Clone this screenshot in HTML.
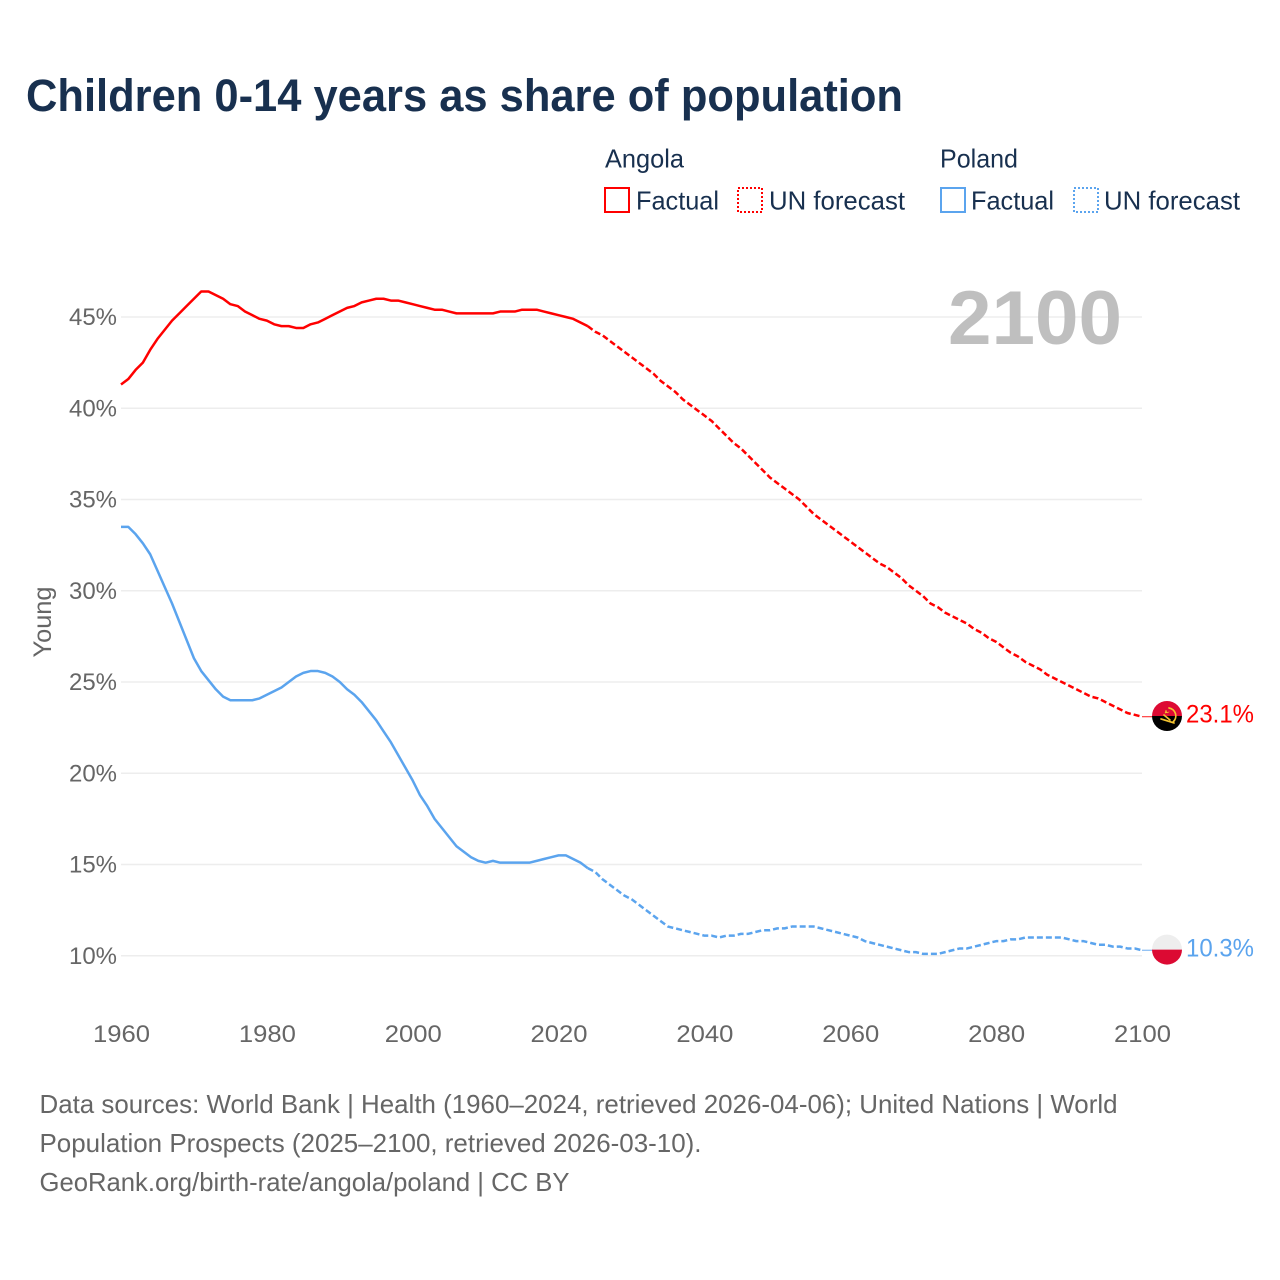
<!DOCTYPE html>
<html lang="en">
<head>
<meta charset="utf-8">
<title>Children 0-14 years as share of population</title>
<style>
html,body{margin:0;padding:0;background:#fff;width:1280px;height:1280px;overflow:hidden}
svg{display:block}
text{font-family:"Liberation Sans",sans-serif}
</style>
</head>
<body>
<svg id="chart" xmlns="http://www.w3.org/2000/svg" width="1280" height="1280" viewBox="0 0 1280 1280">
  <rect width="1280" height="1280" fill="#fff"/>
  <text x="26" y="111" font-size="45" font-weight="700" fill="#18304f" textLength="877" lengthAdjust="spacingAndGlyphs">Children 0-14 years as share of population</text>

  <g font-size="26" fill="#18304f">
    <text x="605" y="167.5" textLength="79" lengthAdjust="spacingAndGlyphs">Angola</text>
    <rect x="605" y="188" width="24" height="24" fill="none" stroke="#ff0000" stroke-width="2"/>
    <text x="636" y="209.5" textLength="83" lengthAdjust="spacingAndGlyphs">Factual</text>
    <rect x="738" y="188" width="24" height="24" fill="none" stroke="#ff0000" stroke-width="2" stroke-dasharray="2 2"/>
    <text x="769" y="209.5" textLength="136" lengthAdjust="spacingAndGlyphs">UN forecast</text>
    <text x="940" y="167.5" textLength="78" lengthAdjust="spacingAndGlyphs">Poland</text>
    <rect x="941" y="188" width="24" height="24" fill="none" stroke="#5ba4ee" stroke-width="2"/>
    <text x="971" y="209.5" textLength="83" lengthAdjust="spacingAndGlyphs">Factual</text>
    <rect x="1074" y="188" width="24" height="24" fill="none" stroke="#5ba4ee" stroke-width="2" stroke-dasharray="2 2"/>
    <text x="1104" y="209.5" textLength="136" lengthAdjust="spacingAndGlyphs">UN forecast</text>
  </g>

  <g id="grid"></g>
  <text x="948" y="344" font-size="76" font-weight="700" fill="#bfbfbf" textLength="174" lengthAdjust="spacingAndGlyphs">2100</text>
  <g id="yticks" font-size="24" fill="#666"></g>
  <g id="xticks" font-size="24" fill="#666"></g>
  <text transform="translate(51,622) rotate(-90)" text-anchor="middle" font-size="25" fill="#666" textLength="71" lengthAdjust="spacingAndGlyphs">Young</text>
  <g id="series"></g>
  <g id="ends"></g>

  <g font-size="26" fill="#666">
    <text x="39.5" y="1113" textLength="1078" lengthAdjust="spacingAndGlyphs">Data sources: World Bank | Health (1960–2024, retrieved 2026-04-06); United Nations | World</text>
    <text x="39.5" y="1152" textLength="662" lengthAdjust="spacingAndGlyphs">Population Prospects (2025–2100, retrieved 2026-03-10).</text>
    <text x="39.5" y="1191" textLength="530" lengthAdjust="spacingAndGlyphs">GeoRank.org/birth-rate/angola/poland | CC BY</text>
  </g>
</svg>
<script>
const xTickYears = [1960, 1980, 2000, 2020, 2040, 2060, 2080, 2100];
const yTickValues = [10, 15, 20, 25, 30, 35, 40, 45];
const factualStartYear = 1960;
const forecastStartYear = 2024;

const angolaFactual = [
  41.3, 41.6, 42.1, 42.5, 43.2, 43.8, 44.3, 44.8, 45.2, 45.6,
  46.0, 46.4, 46.4, 46.2, 46.0, 45.7, 45.6, 45.3, 45.1, 44.9,
  44.8, 44.6, 44.5, 44.5, 44.4, 44.4, 44.6, 44.7, 44.9, 45.1,
  45.3, 45.5, 45.6, 45.8, 45.9, 46.0, 46.0, 45.9, 45.9, 45.8,
  45.7, 45.6, 45.5, 45.4, 45.4, 45.3, 45.2, 45.2, 45.2, 45.2,
  45.2, 45.2, 45.3, 45.3, 45.3, 45.4, 45.4, 45.4, 45.3, 45.2,
  45.1, 45.0, 44.9, 44.7, 44.5
];
const angolaForecast = [
  44.5, 44.2, 44.0, 43.7, 43.4, 43.1,
  42.8, 42.5, 42.2, 41.9, 41.5, 41.2, 40.9, 40.5, 40.2, 39.9,
  39.6, 39.3, 38.9, 38.5, 38.1, 37.8, 37.4, 37.0, 36.6, 36.2,
  35.9, 35.6, 35.3, 35.0, 34.6, 34.2, 33.9, 33.6, 33.3, 33.0,
  32.7, 32.4, 32.1, 31.8, 31.5, 31.3, 31.0, 30.7, 30.3, 30.0,
  29.7, 29.3, 29.1, 28.8, 28.6, 28.4, 28.2, 27.9, 27.7, 27.4,
  27.2, 26.9, 26.6, 26.4, 26.1, 25.9, 25.7, 25.4, 25.2, 25.0,
  24.8, 24.6, 24.4, 24.2, 24.1, 23.9, 23.7, 23.5, 23.3, 23.2,
  23.1
];
const polandFactual = [
  33.5, 33.5, 33.1, 32.6, 32.0, 31.1, 30.2, 29.3, 28.3, 27.3,
  26.3, 25.6, 25.1, 24.6, 24.2, 24.0, 24.0, 24.0, 24.0, 24.1,
  24.3, 24.5, 24.7, 25.0, 25.3, 25.5, 25.6, 25.6, 25.5, 25.3,
  25.0, 24.6, 24.3, 23.9, 23.4, 22.9, 22.3, 21.7, 21.0, 20.3,
  19.6, 18.8, 18.2, 17.5, 17.0, 16.5, 16.0, 15.7, 15.4, 15.2,
  15.1, 15.2, 15.1, 15.1, 15.1, 15.1, 15.1, 15.2, 15.3, 15.4,
  15.5, 15.5, 15.3, 15.1, 14.8
];
const polandForecast = [
  14.8, 14.6, 14.2, 13.9, 13.6, 13.3,
  13.1, 12.8, 12.5, 12.2, 11.9, 11.6, 11.5, 11.4, 11.3, 11.2,
  11.1, 11.1, 11.0, 11.1, 11.1, 11.2, 11.2, 11.3, 11.4, 11.4,
  11.5, 11.5, 11.6, 11.6, 11.6, 11.6, 11.5, 11.4, 11.3, 11.2,
  11.1, 11.0, 10.8, 10.7, 10.6, 10.5, 10.4, 10.3, 10.2, 10.2,
  10.1, 10.1, 10.1, 10.2, 10.3, 10.4, 10.4, 10.5, 10.6, 10.7,
  10.8, 10.8, 10.9, 10.9, 11.0, 11.0, 11.0, 11.0, 11.0, 11.0,
  10.9, 10.8, 10.8, 10.7, 10.6, 10.6, 10.5, 10.5, 10.4, 10.4,
  10.3
];

const NS = 'http://www.w3.org/2000/svg';
function xScale(year) { return 121 + (year - 1960) * (1021 / 140); }
function yScale(v) { return 955.75 - (v - 10) * 18.25; }
function make(tag, parent, attrs) {
  const el = document.createElementNS(NS, tag);
  for (const k in attrs) el.setAttribute(k, attrs[k]);
  parent.appendChild(el);
  return el;
}
function pathFrom(values, startYear) {
  return values.map((v, i) => (i ? 'L' : 'M') + xScale(startYear + i).toFixed(2) + ' ' + yScale(v).toFixed(2)).join(' ');
}

const gridG = document.getElementById('grid');
const yG = document.getElementById('yticks');
yTickValues.forEach(v => {
  const line = make('line', gridG, { x1: 121, x2: 1142, y1: yScale(v), y2: yScale(v), stroke: '#ededed', 'stroke-width': 1.5 });
  
  
  const t = make('text', yG, { x: 117, y: yScale(v) + 8, 'text-anchor': 'end', textLength: 48, lengthAdjust: 'spacingAndGlyphs' });
  t.textContent = v + '%';
  
  
});

const xG = document.getElementById('xticks');
xTickYears.forEach(year => {
  const t = make('text', xG, { x: xScale(year) + 0.5, y: 1042, 'text-anchor': 'middle', textLength: 57, lengthAdjust: 'spacingAndGlyphs' });
  t.textContent = year;
  
  
});

const seriesG = document.getElementById('series');
const endsG = document.getElementById('ends');

function drawLine(values, startYear, color, dashed) {
  const attrs = { d: pathFrom(values, startYear), fill: 'none', stroke: color, 'stroke-width': 2.5, 'stroke-linejoin': 'round' };
  if (dashed) attrs['stroke-dasharray'] = '6 3';
  return make('path', seriesG, attrs);
}

const RED = '#ff0000';
const BLUE = '#5ba4ee';

const angolaFactualLine = drawLine(angolaFactual, factualStartYear, RED, false);


const angolaForecastLine = drawLine(angolaForecast, forecastStartYear, RED, true);


const polandFactualLine = drawLine(polandFactual, factualStartYear, BLUE, false);


const polandForecastLine = drawLine(polandForecast, forecastStartYear, BLUE, true);



function drawConnector(last, color) {
  return make('line', endsG, { x1: xScale(2100), x2: 1153, y1: yScale(last), y2: yScale(last), stroke: color, 'stroke-width': 1.2, opacity: 0.75 });
}
function drawLabel(last, color) {
  return make('text', endsG, { x: 1186, y: yScale(last) + 6, 'font-size': 25, fill: color, textLength: 68, lengthAdjust: 'spacingAndGlyphs' });
}
function halfDisc(cx, cy, r, top, color) {
  const sweep = top ? 1 : 0;
  return make('path', endsG, { d: 'M' + (cx - r) + ' ' + cy + ' A' + r + ' ' + r + ' 0 0 ' + sweep + ' ' + (cx + r) + ' ' + cy + ' Z', fill: color });
}

const angolaLast = angolaForecast[angolaForecast.length - 1];
const angolaConnector = drawConnector(angolaLast, RED);


const angolaCy = yScale(angolaLast) - 0.7;
const angolaTop = halfDisc(1167, angolaCy, 15, true, '#dd0a33');


const angolaBottom = halfDisc(1167, angolaCy, 15, false, '#000000');


const emblem = make('g', endsG, { transform: 'translate(1167,' + angolaCy + ')', fill: 'none', stroke: '#f4c430', 'stroke-width': 1.7, 'stroke-linecap': 'round' });


make('path', emblem, { d: 'M2 -8 A8 8 0 0 1 6 6' });
make('path', emblem, { d: 'M-6 3 L7 7' });
make('path', emblem, { d: 'M-2 -3 L-1 -6 L0 -3 L2 -4 Z', fill: '#f4c430', 'stroke-width': 0.5 });
make('path', emblem, { d: 'M-3 -1 L3 4' });
const angolaLabel = drawLabel(angolaLast, RED);
angolaLabel.textContent = angolaLast.toFixed(1) + '%';



const polandLast = polandForecast[polandForecast.length - 1];
const polandConnector = drawConnector(polandLast, BLUE);


const polandCy = yScale(polandLast) - 0.7;
const polandTop = halfDisc(1167, polandCy, 15, true, '#eeeeee');


const polandBottom = halfDisc(1167, polandCy, 15, false, '#dc0a33');


const polandLabel = drawLabel(polandLast, BLUE);
polandLabel.textContent = polandLast.toFixed(1) + '%';


</script>
</body>
</html>
